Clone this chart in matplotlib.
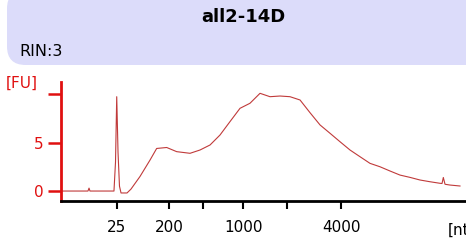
import matplotlib
matplotlib.use("Agg")
import matplotlib.pyplot as plt
from matplotlib.patches import FancyBboxPatch

# Data: migration time (s) vs fluorescence (FU)
time_s = [19.0, 22.33, 22.46, 22.58, 25.54, 25.73, 25.88, 26.04, 26.22, 26.41,
          27.15, 27.64, 28.75, 29.99, 30.81, 32.05, 33.28, 34.93, 36.16, 37.40,
          38.63, 39.86, 41.10, 42.33, 43.57, 44.80, 46.04, 47.27, 48.51, 49.74,
          50.98, 52.21, 53.44, 54.68, 55.91, 57.15, 58.38, 59.62, 60.85, 62.09,
          63.32, 64.56, 65.79, 66.04, 66.20, 66.41, 67.02, 68.26]
fu = [0.0, 0.0, 0.3, 0.0, 0.0, 3.0, 9.75, 4.0, 0.5, -0.2,
      -0.2, 0.2, 1.5, 3.2, 4.4, 4.5, 4.07, 3.9, 4.24, 4.76,
      5.79, 7.17, 8.55, 9.07, 10.1, 9.75, 9.82, 9.75, 9.41, 8.1,
      6.83, 5.97, 5.1, 4.24, 3.55, 2.86, 2.51, 2.07, 1.65, 1.41,
      1.14, 0.96, 0.8, 0.78, 1.4, 0.7, 0.62, 0.52]

ladder_time = [25.88, 32.33, 36.57, 41.5, 46.86, 53.57]
ladder_labels = ["25", "200", "", "1000", "", "4000"]
y_ticks = [0, 5, 10]
y_labels = ["0", "5", ""]

title = "all2-14D"
rin_text = "RIN:3"

red = "#e01010"
line_red = "#c03a3a"

fig = plt.figure(figsize=(4.66, 2.44), dpi=100)

# header box
box = FancyBboxPatch((7/466, (244-65)/244), 1.2, 75/244,
                     boxstyle="round,pad=0,rounding_size=0.04",
                     transform=fig.transFigure, facecolor="#dcdcfa",
                     edgecolor="none", mutation_aspect=466/244)
fig.patches.append(box)
fig.text(243/466, 1-17/244, title, ha="center", va="center",
         fontsize=13, fontweight="bold", color="black")
fig.text(19/466, 1-52/244, rin_text, ha="left", va="center",
         fontsize=11.5, color="black")

ax = fig.add_axes([61/466, 43/244, 1-61/466, (201-81.7)/244])
ax.plot(time_s, fu, color=line_red, lw=0.8)
ax.set_xlim(19, 69)
ax.set_ylim(-1.03, 11.3)

for s in ["top", "right"]:
    ax.spines[s].set_visible(False)
ax.spines["left"].set_color(red)
ax.spines["left"].set_linewidth(2)
ax.spines["bottom"].set_color("black")
ax.spines["bottom"].set_linewidth(2)

ax.set_yticks(y_ticks)
ax.set_yticklabels(y_labels)
ax.tick_params(axis="y", colors=red, length=9.5, width=1.8, pad=3, labelsize=11)
ax.set_xticks(ladder_time)
ax.set_xticklabels(ladder_labels)
ax.tick_params(axis="x", colors="black", length=5.5, width=1.5, pad=8, labelsize=11)

fig.text(6/466, 1-83/244, "[FU]", ha="left", va="center", fontsize=11, color=red)
fig.text(448/466, 1-230/244, "[nt]", ha="left", va="center", fontsize=11, color="black")

fig.savefig("out.png", dpi=100)
